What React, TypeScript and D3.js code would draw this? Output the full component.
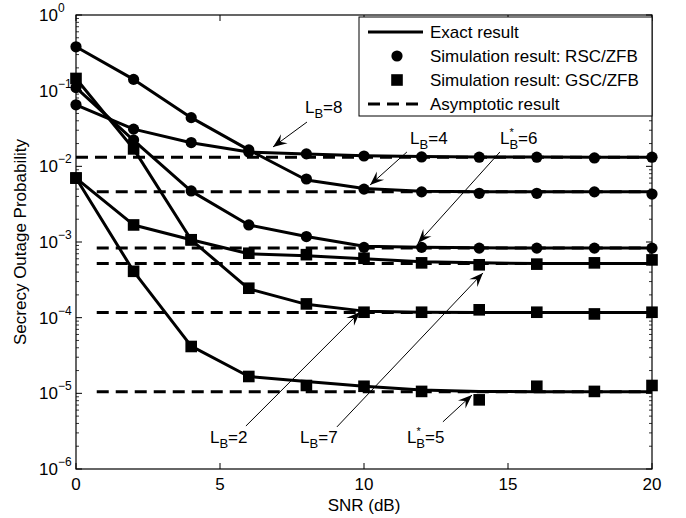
import React from 'react';
import * as d3 from 'd3';

// ---------- data ----------
const snr = [0, 2, 4, 6, 8, 10, 12, 14, 16, 18, 20];
const xTicks = [0, 5, 10, 15, 20];
const yExponents = [0, -1, -2, -3, -4, -5, -6];

// RSC/ZFB (circles)
const exactRscL4 = [0.38, 0.141, 0.044, 0.0165, 0.0066, 0.0051, 0.0047, 0.0046, 0.0046, 0.0046, 0.0046];
const simRscL4 = [0.38, 0.141, 0.044, 0.0165, 0.0068, 0.005, 0.0046, 0.0044, 0.0044, 0.0046, 0.0043];
const exactRscL8 = [0.065, 0.031, 0.0205, 0.0155, 0.0145, 0.0138, 0.0135, 0.0133, 0.0133, 0.0132, 0.0132];
const simRscL8 = [0.065, 0.031, 0.0206, 0.0155, 0.0146, 0.0137, 0.0133, 0.0132, 0.0132, 0.0129, 0.0132];
const exactRscL6 = [0.11, 0.022, 0.0047, 0.00168, 0.00118, 0.00088, 0.00085, 0.00084, 0.00083, 0.00083, 0.00083];
const simRscL6 = [0.11, 0.0223, 0.00473, 0.00168, 0.00118, 0.00085, 0.00085, 0.00083, 0.00083, 0.00083, 0.00083];

// GSC/ZFB (squares)
const exactGscL7 = [0.007, 0.00168, 0.00107, 0.0007, 0.00066, 0.0006, 0.00055, 0.00053, 0.00052, 0.00052, 0.00052];
const simGscL7 = [0.007, 0.00168, 0.00107, 0.00071, 0.00068, 0.00061, 0.00053, 0.0005, 0.00051, 0.00053, 0.00058];
const exactGscL2 = [0.145, 0.017, 0.00107, 0.00024, 0.00015, 0.000122, 0.000118, 0.000117, 0.000117, 0.000117, 0.000117];
const simGscL2 = [0.145, 0.017, 0.00107, 0.000245, 0.000152, 0.000118, 0.000118, 0.000127, 0.000118, 0.000112, 0.000118];
const exactGscL5 = [0.007, 0.00041, 0.000042, 0.0000167, 0.0000143, 0.0000124, 0.0000111, 0.0000106, 0.0000105, 0.0000105, 0.0000105];
const simGscL5 = [0.007, 0.00041, 0.0000416, 0.0000167, 0.0000127, 0.0000124, 0.0000106, 0.0000082, 0.0000124, 0.0000106, 0.0000127];

// asymptotes (level, first SNR where the dashed line is drawn)
const asymLevels = [0.0132, 0.0046, 0.00083, 0.00052, 0.000117, 0.0000105];
const asymStart = [0, 0.72, 0.72, 0.72, 0.72, 0.72];

const legendLabels = ['Exact result', 'Simulation result: RSC/ZFB', 'Simulation result: GSC/ZFB', 'Asymptotic result'];

// annotations: label value, starred, text anchor [snr, prob], arrow tail, arrow tip
const annLabels = ['8', '4', '6', '2', '7', '5'];
const annStar = [false, false, true, false, false, true];
const annText: [number, number][] = [[7.95, 0.0507], [11.6, 0.0197], [14.72, 0.0197], [4.65, 2.21e-6], [7.78, 2.21e-6], [11.49, 2.21e-6]];
const annTail: [number, number][] = [[8.02, 0.0385], [11.49, 0.01548], [14.72, 0.01548], [5.9, 3.7e-6], [9.06, 3.6e-6], [12.74, 4.2e-6]];
const annTip: [number, number][] = [[6.84, 0.01802], [10.21, 0.00567], [11.875, 9.7e-4], [9.86, 1.19e-4], [14.13, 3.9e-4], [13.75, 9.5e-6]];

// ---------- layout ----------
const W = 686, H = 518;
const L = 76, R = 652, T = 15, B = 469;
const FONT = 'Arial, "Liberation Sans", Helvetica, sans-serif';

export default function App() {
  const x = d3.scaleLinear().domain([0, 20]).range([L, R]);
  const y = d3.scaleLog().domain([1e-6, 1]).range([B, T]);
  const line = d3.line<number>().x((_, i) => x(snr[i])).y((v) => y(v));

  const series = [
    { exact: exactRscL4, sim: simRscL4, m: 'c' },
    { exact: exactRscL8, sim: simRscL8, m: 'c' },
    { exact: exactRscL6, sim: simRscL6, m: 'c' },
    { exact: exactGscL7, sim: simGscL7, m: 's' },
    { exact: exactGscL2, sim: simGscL2, m: 's' },
    { exact: exactGscL5, sim: simGscL5, m: 's' },
  ];

  const minor: number[] = [];
  for (let e = -6; e < 0; e++) for (let k = 2; k <= 9; k++) minor.push(k * Math.pow(10, e));

  const marker = (m: string, cx: number, cy: number, key: string) =>
    m === 'c' ? (
      <circle key={key} cx={cx} cy={cy} r={5.6} fill="#000" />
    ) : (
      <rect key={key} x={cx - 5.8} y={cy - 5.8} width={11.6} height={11.6} fill="#000" />
    );

  const arrowHead = (tip: [number, number], tail: [number, number], key: string) => {
    const tx = x(tip[0]), ty = y(tip[1]);
    const sx = x(tail[0]), sy = y(tail[1]);
    const ang = Math.atan2(ty - sy, tx - sx) * 180 / Math.PI;
    const Lh = 14, Wh = 5.5;
    return (
      <g key={key}>
        <line x1={sx} y1={sy} x2={tx} y2={ty} stroke="#000" strokeWidth={1} />
        <path d={`M0,0 L${-Lh},${-Wh} L${-Lh * 0.62},0 L${-Lh},${Wh} Z`} fill="#000"
          transform={`translate(${tx},${ty}) rotate(${ang})`} />
      </g>
    );
  };

  const legX1 = 359, legX2 = 652, legY1 = 17, legY2 = 116;
  const legRows = [32, 56, 80, 104];

  return (
    <svg width={W} height={H} style={{ position: 'absolute', left: 0, top: 0, background: '#fff' }}
      fontFamily={FONT}>
      <rect x={0} y={0} width={W} height={H} fill="#fff" />
      {/* asymptotes */}
      {asymLevels.map((a, i) => (
        <line key={'a' + i} x1={x(asymStart[i])} x2={x(20)} y1={y(a)} y2={y(a)} stroke="#000" strokeWidth={3}
          strokeDasharray="12 7" />
      ))}
      {/* exact lines */}
      {series.map((s, i) => (
        <path key={'l' + i} d={line(s.exact) || ''} fill="none" stroke="#000" strokeWidth={3}
          strokeLinejoin="round" />
      ))}
      {/* markers */}
      {series.map((s, i) => s.sim.map((v, j) => marker(s.m, x(snr[j]), y(v), `m${i}-${j}`)))}

      {/* axes box */}
      <rect x={L} y={T} width={R - L} height={B - T} fill="none" stroke="#000" strokeWidth={1.2} />
      {xTicks.map((t) => (
        <g key={'xt' + t}>
          <line x1={x(t)} x2={x(t)} y1={B} y2={B - 6} stroke="#000" />
          <line x1={x(t)} x2={x(t)} y1={T} y2={T + 6} stroke="#000" />
          <text x={x(t)} y={490} fontSize={17} textAnchor="middle">{t}</text>
        </g>
      ))}
      {yExponents.map((e) => {
        const py = y(Math.pow(10, e));
        return (
          <g key={'yt' + e}>
            <line x1={L} x2={L + 6} y1={py} y2={py} stroke="#000" />
            <line x1={R} x2={R - 6} y1={py} y2={py} stroke="#000" />
            <text x={58} y={py + 6} fontSize={17} textAnchor="end">10</text>
            <text x={58} y={py - 3} fontSize={12} textAnchor="start">{e === 0 ? '0' : '\u2212' + Math.abs(e)}</text>
          </g>
        );
      })}
      {minor.map((v, i) => (
        <g key={'mn' + i}>
          <line x1={L} x2={L + 3} y1={y(v)} y2={y(v)} stroke="#000" strokeWidth={0.8} />
          <line x1={R} x2={R - 3} y1={y(v)} y2={y(v)} stroke="#000" strokeWidth={0.8} />
        </g>
      ))}
      <text x={364} y={511} fontSize={17} textAnchor="middle">SNR (dB)</text>
      <text transform={`translate(26,${(T + B) / 2}) rotate(-90)`} fontSize={17} textAnchor="middle">
        Secrecy Outage Probability
      </text>

      {/* annotations */}
      {annLabels.map((lab, i) => {
        const tx = x(annText[i][0]), ty = y(annText[i][1]);
        return (
          <g key={'ann' + i}>
            {arrowHead(annTip[i], annTail[i], 'ah' + i)}
            {annStar[i] ? (
              <text x={tx} y={ty} fontSize={17}>
                L<tspan dy={-8} fontSize={11}>*</tspan><tspan dx={-4.3} dy={13} fontSize={13}>B</tspan><tspan dy={-5}>={lab}</tspan>
              </text>
            ) : (
              <text x={tx} y={ty} fontSize={17}>
                L<tspan dy={5} fontSize={13}>B</tspan><tspan dy={-5}>={lab}</tspan>
              </text>
            )}
          </g>
        );
      })}

      {/* legend */}
      <rect x={legX1} y={legY1} width={legX2 - legX1} height={legY2 - legY1} fill="#fff" stroke="#000" strokeWidth={1} />
      <line x1={368} x2={423} y1={legRows[0]} y2={legRows[0]} stroke="#000" strokeWidth={3} />
      {marker('c', 397, legRows[1], 'lg1')}
      {marker('s', 397, legRows[2], 'lg2')}
      <line x1={368} x2={423} y1={legRows[3]} y2={legRows[3]} stroke="#000" strokeWidth={3} strokeDasharray="12 7" />
      {legendLabels.map((t, i) => (
        <text key={'lt' + i} x={430} y={legRows[i] + 6} fontSize={17}>{t}</text>
      ))}
    </svg>
  );
}
